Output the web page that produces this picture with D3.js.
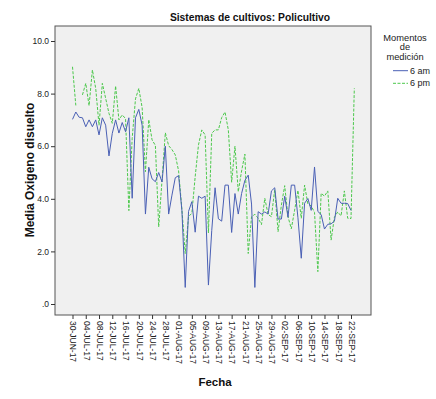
<!DOCTYPE html>
<html><head><meta charset="utf-8">
<script src="https://cdn.jsdelivr.net/npm/d3@7"></script>
<style>body{margin:0;background:#fff}svg{display:block;font-family:"Liberation Sans",Arial,sans-serif}</style>
</head><body>
<svg id="c" width="436" height="399"></svg>
<script>
const startDate = "2017-06-30";
const tickLabels = ["30-JUN-17","04-JUL-17","08-JUL-17","12-JUL-17","16-JUL-17","20-JUL-17","24-JUL-17","28-JUL-17","01-AUG-17","05-AUG-17","09-AUG-17","13-AUG-17","17-AUG-17","21-AUG-17","25-AUG-17","29-AUG-17","02-SEP-17","06-SEP-17","10-SEP-17","14-SEP-17","18-SEP-17","22-SEP-17"];
const am6 = [7.02,7.3,7.1,7.08,6.74,7.0,6.74,7.0,6.43,7.08,6.8,5.63,6.49,7.0,6.5,6.9,6.55,7.08,4.02,7.08,
 7.4,6.8,3.42,5.2,4.76,4.65,5.0,4.64,6.0,3.42,4.14,4.8,4.88,3.55,0.63,3.52,3.89,2.73,4.1,4.02,
 4.1,0.72,2.8,4.42,3.24,3.15,4.52,4.52,2.72,4.2,3.42,4.2,4.7,4.9,3.8,0.63,3.51,3.42,3.5,3.42,
 4.3,4.42,3.23,3.23,4.1,3.3,4.52,4.52,3.28,1.74,3.83,4.01,3.56,5.21,3.52,3.4,2.85,3.03,3.05,3.15,
 4.02,3.83,3.83,3.82,3.56,null];
const pm6 = [9.02,7.55,null,7.95,8.39,7.54,8.9,8.2,6.8,8.39,7.82,7.25,6.87,8.29,7.0,7.19,7.05,3.55,6.3,7.8,
 8.2,7.47,5.03,7.01,6.24,6.03,2.93,4.7,6.51,6.02,5.87,5.67,5.06,3.6,1.92,3.32,3.45,4.84,6.05,6.62,
 6.43,2.7,6.49,6.62,6.62,7.09,7.3,6.62,4.63,6.0,4.27,5.06,5.7,1.92,3.32,3.41,3.26,3.02,4.02,3.4,
 3.32,4.35,2.75,3.76,4.5,3.32,2.86,3.57,4.32,3.26,4.52,3.8,3.73,3.48,1.23,4.21,4.1,4.3,2.43,3.3,
 3.5,3.35,4.3,3.26,3.25,8.2];
const yTicks = [0,2,4,6,8,10];
const yTickLabels = [".0","2.0","4.0","6.0","8.0","10.0"];
const seriesNames = ["6 am","6 pm"];
const legendTitle = ["Momentos","de","medición"];

const svg = d3.select("#c");
const parse = d3.timeParse("%Y-%m-%d");
const t0 = parse(startDate);
const dates = am6.map((_, i) => d3.timeDay.offset(t0, i));
const tickDates = tickLabels.map((_, i) => d3.timeDay.offset(t0, i * 4));

const plot = {l:55, r:371, t:26, b:315};
const x = d3.scaleTime().domain([t0, tickDates[tickDates.length-1]]).range([72.5, 351]);
const y = d3.scaleLinear().domain([0, 10]).range([304, 41]);

svg.append("rect").attr("x", plot.l).attr("y", plot.t).attr("width", plot.r - plot.l).attr("height", plot.b - plot.t)
  .attr("fill", "#f0f0f0").attr("stroke", "#555").attr("stroke-width", 1);

// y axis
const yAxis = d3.axisLeft(y).tickValues(yTicks).tickSize(4).tickPadding(2).tickFormat((d,i) => yTickLabels[i]);
const gy = svg.append("g").attr("transform", `translate(${plot.l},0)`).call(yAxis);
gy.select(".domain").remove();
gy.selectAll("line").attr("stroke", "#333");
gy.selectAll("text").attr("font-size", 8.5).attr("fill", "#222").attr("font-family", "Liberation Sans, Arial, sans-serif");

// x axis
const xAxis = d3.axisBottom(x).tickValues(tickDates).tickSize(4).tickFormat((d,i) => tickLabels[i]);
const gx = svg.append("g").attr("transform", `translate(0,${plot.b})`).call(xAxis);
gx.select(".domain").remove();
gx.selectAll("line").attr("stroke", "#333");
gx.selectAll("text").attr("font-size", 8.5).attr("fill", "#222").attr("font-family", "Liberation Sans, Arial, sans-serif")
  .attr("text-anchor", "start").attr("transform", "rotate(90)").attr("x", 6).attr("y", 0).attr("dy", "0.32em");

const line = d3.line().defined(d => d[1] != null).x(d => x(d[0])).y(d => y(d[1]));
const pmDates = pm6.map((_, i) => d3.timeDay.offset(t0, i));
svg.append("path").datum(pm6.map((v,i) => [pmDates[i], v])).attr("d", line)
  .attr("fill", "none").attr("stroke", "#4cc84c").attr("stroke-width", 1).attr("stroke-dasharray", "3,1.5");
svg.append("path").datum(am6.map((v,i) => [dates[i], v])).attr("d", line)
  .attr("fill", "none").attr("stroke", "#4a60b5").attr("stroke-width", 1);

// titles
svg.append("text").attr("x", 250).attr("y", 21).attr("text-anchor", "middle").attr("font-weight", "bold")
  .attr("font-size", 10.3).attr("fill", "#111").text("Sistemas de cultivos: Policultivo");
svg.append("text").attr("transform", "translate(34,170) rotate(-90)").attr("text-anchor", "middle")
  .attr("font-weight", "bold").attr("font-size", 12).attr("fill", "#111").text("Media Oxigeno disuelto");
svg.append("text").attr("x", 215).attr("y", 386).attr("text-anchor", "middle").attr("font-weight", "bold")
  .attr("font-size", 11.5).attr("fill", "#111").text("Fecha");

// legend
legendTitle.forEach((t, i) => {
  svg.append("text").attr("x", 405).attr("y", 40.5 + i * 9.6).attr("text-anchor", "middle")
    .attr("font-size", 9.3).attr("fill", "#222").text(t);
});
const legColors = ["#4a60b5", "#4cc84c"];
seriesNames.forEach((n, i) => {
  const yy = 70.7 + i * 12.6;
  svg.append("line").attr("x1", 393).attr("x2", 408).attr("y1", yy).attr("y2", yy)
    .attr("stroke", legColors[i]).attr("stroke-width", 1).attr("stroke-dasharray", i ? "3,1.5" : null);
  svg.append("text").attr("x", 410).attr("y", yy).attr("dy", "0.35em").attr("font-size", 9).attr("fill", "#222").text(n);
});
</script>
</body></html>
